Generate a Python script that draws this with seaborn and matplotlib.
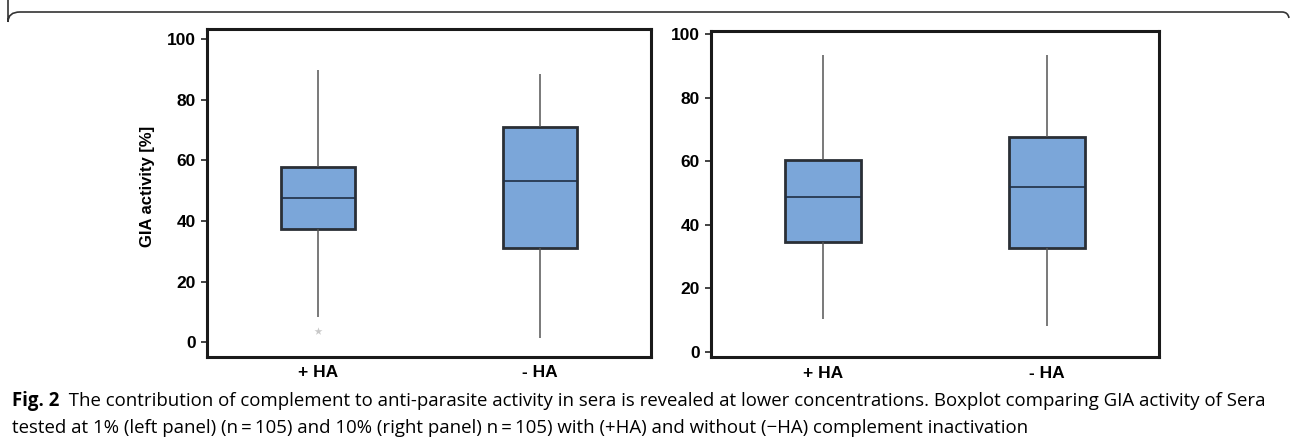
import matplotlib
matplotlib.use("Agg")
import matplotlib.pyplot as plt
import seaborn as sns
import pandas as pd
from matplotlib.path import Path
from matplotlib.patches import PathPatch

# ---- data ----
categories = ["+ HA", "- HA"]
# five-number summaries per group: whisker low, Q1, median, Q3, whisker high
left_plus = [8.2, 37.2, 47.5, 57.9, 89.8]
left_minus = [1.3, 31.1, 53.1, 71.1, 88.4]
right_plus = [10.2, 34.4, 48.7, 60.4, 93.4]
right_minus = [8.2, 32.7, 51.8, 67.6, 93.4]
left_outlier_group = ["+ HA"]
left_outlier_value = [3.8]
yticks = [0, 20, 40, 60, 80, 100]
ylabel = "GIA activity [%]"
caption_bold = "Fig. 2"
caption_line1 = ("  The contribution of complement to anti-parasite activity in sera is revealed at lower "
                 "concentrations. Boxplot comparing GIA activity of Sera")
caption_line2 = ("tested at 1% (left panel) (n\u2009=\u2009105) and 10% (right panel) n\u2009=\u2009105) "
                 "with (+HA) and without (\u2212HA) complement inactivation")

sns.set_theme(style="white")
plt.rcParams["font.family"] = ["Liberation Sans", "DejaVu Sans"]
plt.rcParams["text.color"] = "black"
plt.rcParams["xtick.color"] = "black"
plt.rcParams["ytick.color"] = "black"
plt.rcParams["axes.labelcolor"] = "black"

fig = plt.figure(figsize=(12.9, 4.42), dpi=100)

box_color = "#7ba6d9"
edge = "#2a2f36"
tick_fs = 12.5


def make_df(plus, minus):
    return pd.DataFrame({
        "group": [categories[0]] * len(plus) + [categories[1]] * len(minus),
        "value": plus + minus,
    })


def draw_panel(ax, df, ylim):
    sns.boxplot(data=df, x="group", y="value", order=categories, ax=ax,
                whis=(0, 100), width=0.335, color=box_color, saturation=1,
                showfliers=False,
                boxprops={"edgecolor": edge, "linewidth": 2.0},
                whiskerprops={"color": "#555555", "linewidth": 1.1},
                medianprops={"color": "#1f2f45", "linewidth": 1.2},
                capprops={"linewidth": 0})
    ax.set_xlim(-0.5, 1.5)
    ax.set_ylim(*ylim)
    ax.set_yticks(yticks)
    ax.set_yticklabels([str(t) for t in yticks], fontsize=tick_fs, fontweight="bold")
    ax.set_xticklabels(categories, fontsize=tick_fs, fontweight="bold")
    ax.set_xlabel("")
    ax.set_ylabel("")
    ax.tick_params(axis="y", which="major", direction="out", length=4, width=1.2,
                   color="#222222", left=True, pad=4)
    ax.tick_params(axis="x", length=0, pad=6)
    for s in ax.spines.values():
        s.set_visible(True)
        s.set_color("#1a1a1a")
        s.set_linewidth(2.2)


ax1 = fig.add_axes([207 / 1290, 1 - 357 / 442, 444 / 1290, 328 / 442])
draw_panel(ax1, make_df(left_plus, left_minus), (-4.85, 103.3))
sns.stripplot(x=left_outlier_group, y=left_outlier_value, order=categories, ax=ax1,
              jitter=False, marker="*", size=6, color="#c8c8c8", linewidth=0)
ax1.set_xlim(-0.5, 1.5)
ax1.set_ylabel(ylabel, fontsize=12, fontweight="bold")
ax1.yaxis.set_label_coords(-0.117, 0.52)

ax2 = fig.add_axes([711 / 1290, 1 - 357.3 / 442, 448 / 1290, 326.6 / 442])
draw_panel(ax2, make_df(right_plus, right_minus), (-1.8, 101.1))

# caption
cap_fs = 13.4
cap_family = ["Open Sans", "DejaVu Sans"]
t1 = fig.text(12 / 1290, 1 - 401 / 442, caption_bold, fontsize=cap_fs, fontweight="bold",
              family=cap_family, va="center", ha="left")
fig.canvas.draw()
bb = t1.get_window_extent()
fig.text(bb.x1 / 1290, 1 - 401 / 442, caption_line1, fontsize=cap_fs,
         family=cap_family, va="center", ha="left")
fig.text(12 / 1290, 1 - 428 / 442, caption_line2, fontsize=cap_fs,
         family=cap_family, va="center", ha="left")

# outer rounded frame
W, H = 1290, 442
verts = [(8 / W, 1), (8 / W, 1 - 22 / H), (8 / W, 1 - 12 / H), (20 / W, 1 - 12 / H),
         (1282 / W, 1 - 12 / H), (1288 / W, 1 - 12 / H), (1289 / W, 1 - 18 / H)]
codes = [Path.MOVETO, Path.LINETO, Path.CURVE3, Path.CURVE3, Path.LINETO,
         Path.CURVE3, Path.CURVE3]
frame = PathPatch(Path(verts, codes), transform=fig.transFigure, fill=False,
                  edgecolor="#333333", linewidth=1.2)
fig.patches.append(frame)

fig.savefig("out.png", dpi=100)
